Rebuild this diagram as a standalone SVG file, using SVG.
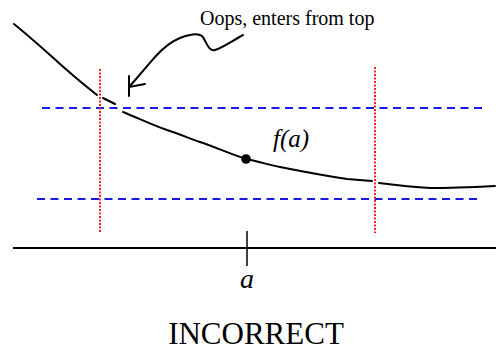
<svg xmlns="http://www.w3.org/2000/svg" width="496" height="351" viewBox="0 0 496 351">
<style>
.curve{fill:none;stroke:#000;stroke-width:2;stroke-linecap:round;stroke-linejoin:round}
.blue{stroke:#1a1ae6;stroke-width:2;stroke-dasharray:8,5.5;fill:none}
.red{stroke:#ff2020;stroke-width:2;stroke-dasharray:2,1.5;fill:none}
.ink{fill:none;stroke:#000;stroke-width:2}
.serif{font-family:"Liberation Serif","Times New Roman",serif;fill:#000}
.it{font-style:italic}
</style>
<rect width="496" height="351" fill="#fff"/>
<g id="bounds-horizontal">
<line class="blue" x1="42" y1="108" x2="486" y2="108"/>
<line class="blue" x1="37" y1="199" x2="481" y2="199"/>
</g>
<g id="bounds-vertical">
<line class="red" x1="100" y1="69" x2="100" y2="233"/>
<line class="red" x1="375" y1="67" x2="375" y2="233"/>
</g>
<g id="axis">
<line class="ink" x1="13" y1="248" x2="496" y2="248"/>
<line stroke="#000" stroke-width="1.5" x1="247" y1="231" x2="247" y2="266"/>
<text class="serif it" x="247" y="288" font-size="28" text-anchor="middle">a</text>
</g>
<g id="function-curve">
<path class="curve" d="M14,24 C25,33 40,46 50,55 C62,66 75,78 97,95"/>
<path class="curve" d="M103,98 L115,104"/>
<path class="curve" d="M123,112 C140,119 155,126 167,130 C180,134 190,139 200,142 C215,147 230,154 246,159 C260,162 270,165 280,167 C300,171 320,175 347,179 L372,181"/>
<path class="curve" d="M379,183 C395,185 412,187 430,188 C455,188 475,187 495,186"/>
<circle cx="246" cy="159" r="4.8" fill="#000"/>
<text class="serif it" x="273" y="147" font-size="25">f(a)</text>
</g>
<g id="annotation">
<text class="serif" x="200" y="25" font-size="20">Oops, enters from top</text>
<path class="curve" d="M243,35 C232,41 222,48 215,50 C208,52 206,40 202,36 C198,33 188,35 180,38 C170,42 163,48 155,57 C148,65 142,72 130,86"/>
<path class="curve" d="M129,76 L129,96 M129,87 L145,84"/>
</g>
<g id="caption">
<text class="serif" x="256" y="344" font-size="31" text-anchor="middle">INCORRECT</text>
</g>
</svg>
